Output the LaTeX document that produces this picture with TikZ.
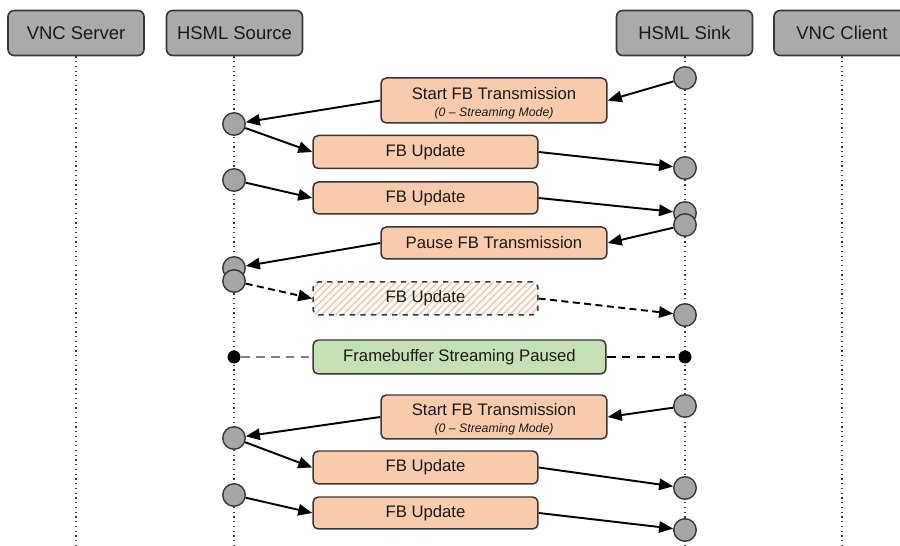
\documentclass[tikz,border=0pt]{standalone}
\usepackage{fontspec}
\setmainfont{Liberation Sans}
\usetikzlibrary{arrows.meta,patterns.meta}
\definecolor{hdr}{HTML}{ABA9AA}
\definecolor{org}{HTML}{F8CBAD}
\definecolor{orgline}{HTML}{F6C3A2}
\definecolor{grn}{HTML}{C5E0B4}
\definecolor{edgec}{HTML}{383838}
\definecolor{dotc}{HTML}{A6A6A6}
\definecolor{txt}{HTML}{1A1A1A}
\begin{document}
\begin{tikzpicture}[x=0.02cm,y=-0.02cm,
  hdrbox/.style={draw=edgec,fill=hdr,line width=0.9pt,rounded corners=3.5pt,minimum width=2.72cm,minimum height=0.9cm,inner sep=0pt,text=txt,font=\fontsize{10.5}{12}\selectfont},
  msgbox/.style={draw=edgec,fill=org,line width=0.85pt,rounded corners=3pt,minimum height=0.66cm,inner sep=0pt,text=txt,font=\fontsize{9.5}{11}\selectfont},
  widebox/.style={msgbox,minimum width=4.52cm},
  fbbox/.style={msgbox,minimum width=4.5cm},
  ghostbox/.style={draw=edgec,dashed,line width=0.85pt,rounded corners=3pt,minimum width=4.5cm,minimum height=0.66cm,inner sep=0pt,text=txt,font=\fontsize{9.5}{11}\selectfont,pattern={Lines[angle=45,distance=2.8pt,line width=0.8pt]},pattern color=orgline},
  statebox/.style={draw=edgec,fill=grn,line width=0.85pt,rounded corners=3pt,minimum width=5.86cm,minimum height=0.68cm,inner sep=0pt,text=txt,font=\fontsize{9.5}{11}\selectfont},
  pt/.style={circle,draw=edgec,fill=dotc,line width=0.8pt,minimum size=0.45cm,inner sep=0pt},
  bdot/.style={circle,fill=black,minimum size=0.26cm,inner sep=0pt},
  life/.style={draw=edgec,line width=0.7pt,dotted},
  arr/.style={draw=black,line width=1.1pt,-{Triangle[length=8pt,width=6.5pt]}},
  darr/.style={arr,dash pattern=on 4pt off 2.5pt},
  sub/.style={font=\fontsize{7}{8}\selectfont\itshape,text=txt}
]
\useasboundingbox (0,0) rectangle (900,546);
\clip (0,0) rectangle (900,546);
\fill[white] (0,0) rectangle (900,546);

% headers
\node[hdrbox] (vs) at (76,33) {VNC Server};
\node[hdrbox] (hs) at (234.5,33) {HSML Source};
\node[hdrbox] (hk) at (684.5,33) {HSML Sink};
\node[hdrbox] (vc) at (842,33) {VNC Client};
\coordinate (vsb) at (76,546);
\coordinate (hsb) at (234,546);
\coordinate (hkb) at (685,546);
\coordinate (vcb) at (842,546);
\draw[life] (vs.south) -- (vsb);
\draw[life] (hs.south -| hsb) -- (hsb);
\draw[life] (hk.south -| hkb) -- (hkb);
\draw[life] (vc.south) -- (vcb);

% message boxes
\node[widebox,minimum height=0.9cm] (m1) at (494,100.5) {};
\node[text=txt,font=\fontsize{9.5}{11}\selectfont] at (494,94) {Start FB Transmission};
\node[sub] at (494,113) {(0 – Streaming Mode)};
\node[fbbox] (m2) at (425.5,152) {FB Update};
\node[fbbox,minimum height=0.64cm] (m3) at (425.5,198) {FB Update};
\node[widebox,minimum height=0.64cm] (m4) at (494,243) {Pause FB Transmission};
\node[ghostbox] (m5) at (425.5,298.5) {FB Update};
\node[statebox] (m6) at (459.5,357) {Framebuffer Streaming Paused};
\node[widebox,minimum height=0.88cm] (m7) at (494,417) {};
\node[text=txt,font=\fontsize{9.5}{11}\selectfont] at (494,410) {Start FB Transmission};
\node[sub] at (494,429) {(0 – Streaming Mode)};
\node[fbbox] (m8) at (425.5,467.5) {FB Update};
\node[fbbox,minimum height=0.64cm] (m9) at (425.5,513) {FB Update};

% points
\node[pt] (k1) at (685,78) {};
\node[pt] (s1) at (234,124) {};
\node[pt] (k2) at (685,168) {};
\node[pt] (s2) at (234,180) {};
\node[pt] (k3) at (685,213) {};
\node[pt] (k4) at (685,225) {};
\node[pt] (s3) at (234,268) {};
\node[pt] (s4) at (234,281) {};
\node[pt] (k5) at (685,315) {};
\node[bdot] (d1) at (234,357) {};
\node[bdot] (d2) at (685,357) {};
\node[pt] (k6) at (685,406) {};
\node[pt] (s5) at (234,438) {};
\node[pt] (k7) at (685,488) {};
\node[pt] (s6) at (234,495) {};
\node[pt] (k8) at (685,530) {};

% connectors
\draw[arr] (k1) -- (m1.east);
\draw[arr] (m1.west) -- (s1);
\draw[arr] (s1) -- (m2.west);
\draw[arr] (m2.east) -- (k2);
\draw[arr] (s2) -- (m3.west);
\draw[arr] (m3.east) -- (k3);
\draw[arr] (k4) -- (m4.east);
\draw[arr] (m4.west) -- (s3);
\draw[darr] (s4) -- (m5.west);
\draw[darr] (m5.east) -- (k5);
\draw[draw=gray,line width=1.1pt,dash pattern=on 5pt off 3.5pt] (d1) -- (m6.west);
\draw[draw=black,line width=1.1pt,dash pattern=on 5pt off 3.5pt] (m6.east) -- (d2);
\draw[arr] (k6) -- (m7.east);
\draw[arr] (m7.west) -- (s5);
\draw[arr] (s5) -- (m8.west);
\draw[arr] (m8.east) -- (k7);
\draw[arr] (s6) -- (m9.west);
\draw[arr] (m9.east) -- (k8);
\end{tikzpicture}
\end{document}
